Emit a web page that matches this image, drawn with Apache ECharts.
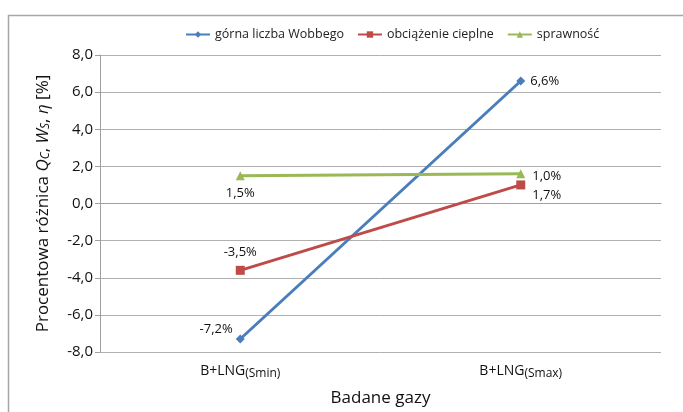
<!DOCTYPE html>
<html><head><meta charset="utf-8">
<script src="https://cdn.jsdelivr.net/npm/echarts@6/dist/echarts.min.js"></script>
<style>html,body{margin:0;padding:0;background:#fff}#c{width:683px;height:412px}</style>
</head><body><div id="c"></div>
<script>
const categories = ['B+LNG{s|(Smin)}', 'B+LNG{s|(Smax)}'];
const seriesNames = ['górna liczba Wobbego', 'obciążenie cieplne', 'sprawność'];
const wobbe = [-7.3, 6.6];
const heat = [-3.6, 1.0];
const eff = [1.5, 1.6];
const wobbeLabels = ['-7,2%', '6,6%'];
const heatLabels = ['-3,5%', '1,7%'];
const effLabels = ['1,5%', '1,0%'];
const yTicks = { min: -8, max: 8, interval: 2 };

const FONT = 'Open Sans';
const chart = echarts.init(document.getElementById('c'));

function mk(vals, labels, positions, offsets) {
  return vals.map((v, i) => ({
    value: v,
    label: { show: true, position: positions[i], offset: offsets[i], formatter: labels[i] }
  }));
}

chart.setOption({
  animation: false,
  textStyle: { fontFamily: FONT },
  graphic: [{ type: 'rect', shape: { x: 8.5, y: 15.5, width: 700, height: 420 }, style: { fill: 'none', stroke: '#a6a6a6', lineWidth: 1.5 } }],
  legend: {
    top: 23, left: 180, itemWidth: 24, itemHeight: 8, itemGap: 13,
    textStyle: { fontSize: 12.5, color: '#222', fontFamily: FONT },
    data: seriesNames
  },
  grid: { left: 100, right: 22, top: 55, bottom: 57 },
  xAxis: {
    type: 'category', data: categories, boundaryGap: true,
    axisLine: { lineStyle: { color: '#a0a0a0', width: 1 } },
    axisTick: { show: false },
    axisLabel: {
      margin: 10, color: '#111', fontSize: 14,
      rich: { s: { fontSize: 12, color: '#111', verticalAlign: 'bottom', padding: [6, 0, 0, 0] } }
    },
    name: 'Badane gazy', nameLocation: 'middle', nameGap: 38,
    nameTextStyle: { fontSize: 17, color: '#111' }
  },
  yAxis: {
    type: 'value', min: yTicks.min, max: yTicks.max, interval: yTicks.interval,
    axisLine: { show: true, lineStyle: { color: '#a0a0a0' } },
    axisTick: { show: true, length: 5, lineStyle: { color: '#a0a0a0' } },
    splitLine: { lineStyle: { color: '#b0b0b0', width: 1 } },
    axisLabel: { fontSize: 15, color: '#111', margin: 7, formatter: v => v.toFixed(1).replace('.', ',') },
    name: '{n|Procentowa różnica }{i|Q}{si|C}{n|, }{i|W}{si|S}{n|, }{i|η}{n| [%]}',
    nameLocation: 'middle', nameGap: 48, nameRotate: 90,
    nameTextStyle: {
      rich: {
        n: { fontSize: 17, color: '#111', fontFamily: FONT },
        i: { fontSize: 17, color: '#111', fontStyle: 'italic', fontFamily: FONT },
        si: { fontSize: 12, color: '#111', fontStyle: 'italic', fontFamily: FONT, verticalAlign: 'bottom', padding: [6, 0, 0, 0] }
      }
    }
  },
  series: [
    {
      name: seriesNames[0], type: 'line', data: mk(wobbe, wobbeLabels, ['left', 'right'], [[2, -10], [0, 0]]),
      color: '#4a7ebb', symbol: 'diamond', symbolSize: 9, lineStyle: { width: 3 },
      label: { fontSize: 13, color: '#111' }
    },
    {
      name: seriesNames[1], type: 'line', data: mk(heat, heatLabels, ['top', 'right'], [[0, -2], [2, 10]]),
      color: '#be4b48', symbol: 'rect', symbolSize: 9, lineStyle: { width: 3 },
      label: { fontSize: 13, color: '#111' }
    },
    {
      name: seriesNames[2], type: 'line', data: mk(eff, effLabels, ['bottom', 'right'], [[0, 2], [2, 2]]),
      color: '#98b954', symbol: 'triangle', symbolSize: 9, lineStyle: { width: 3 },
      label: { fontSize: 13, color: '#111' }
    }
  ]
});
</script></body></html>
